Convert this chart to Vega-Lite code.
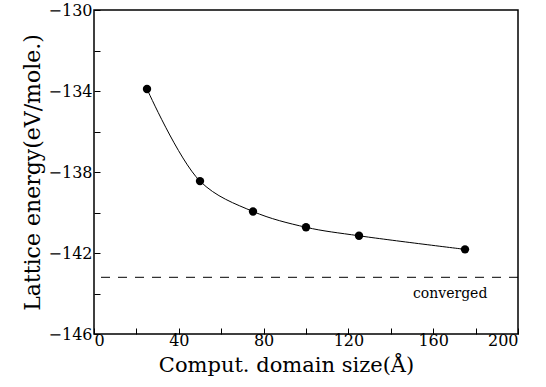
{
  "$schema": "https://vega.github.io/schema/vega-lite/v6.json",
  "width": 424,
  "height": 324,
  "autosize": "none",
  "padding": {"left": 94, "top": 10, "right": 28, "bottom": 53},
  "background": "white",
  "config": {
    "view": {"stroke": "black", "strokeWidth": 1.5},
    "font": "DejaVu Serif"
  },
  "layer": [
    {
      "data": {"values": [
        {"size": 25, "energy": -133.9},
        {"size": 50, "energy": -138.45},
        {"size": 75, "energy": -139.95},
        {"size": 100, "energy": -140.73},
        {"size": 125, "energy": -141.15},
        {"size": 175, "energy": -141.82}
      ]},
      "layer": [
        {
          "mark": {"type": "line", "interpolate": "catmull-rom", "color": "black", "strokeWidth": 1}
        },
        {
          "mark": {"type": "point", "filled": true, "color": "black", "opacity": 1, "size": 70}
        }
      ],
      "encoding": {
        "x": {
          "field": "size", "type": "quantitative",
          "scale": {"domain": [0, 200], "nice": false, "zero": false},
          "axis": {
            "title": "Comput. domain size(Å)",
            "values": [0, 20, 40, 60, 80, 100, 120, 140, 160, 180, 200],
            "labelExpr": "datum.value % 40 == 0 ? datum.label : ''",
            "grid": false, "domain": false,
            "tickSize": -6, "tickColor": "black", "tickWidth": 1,
            "labelPadding": 4, "labelFontSize": 16, "labelColor": "black",
            "labelFont": "DejaVu Serif",
            "titleFont": "DejaVu Serif", "titleFontSize": 21, "titleFontWeight": "normal",
            "titleColor": "black", "titlePadding": 6, "titleX": 192
          }
        },
        "y": {
          "field": "energy", "type": "quantitative",
          "scale": {"domain": [-146, -130], "nice": false, "zero": false},
          "axis": {
            "title": "Lattice energy(eV/mole.)",
            "values": [-146, -144, -142, -140, -138, -136, -134, -132, -130],
            "labelExpr": "datum.value % 4 == 2 || datum.value % 4 == -2 ? datum.label : ''",
            "grid": false, "domain": false,
            "tickSize": -6, "tickColor": "black", "tickWidth": 1,
            "labelPadding": 8, "labelFontSize": 16, "labelColor": "black",
            "labelFont": "DejaVu Serif",
            "titleFont": "DejaVu Serif", "titleFontSize": 22, "titleFontWeight": "normal",
            "titleColor": "black", "titlePadding": 4
          }
        }
      }
    },
    {
      "data": {"values": [{"level": -143.2}]},
      "mark": {"type": "rule", "color": "black", "strokeWidth": 1, "strokeDash": [9, 8]},
      "encoding": {"y": {"field": "level", "type": "quantitative"}}
    },
    {
      "data": {"values": [{"x": 168, "y": -144.0, "label": "converged"}]},
      "mark": {"type": "text", "font": "DejaVu Serif", "fontSize": 14, "color": "black", "align": "center", "baseline": "middle"},
      "encoding": {
        "x": {"field": "x", "type": "quantitative"},
        "y": {"field": "y", "type": "quantitative"},
        "text": {"field": "label"}
      }
    }
  ]
}
